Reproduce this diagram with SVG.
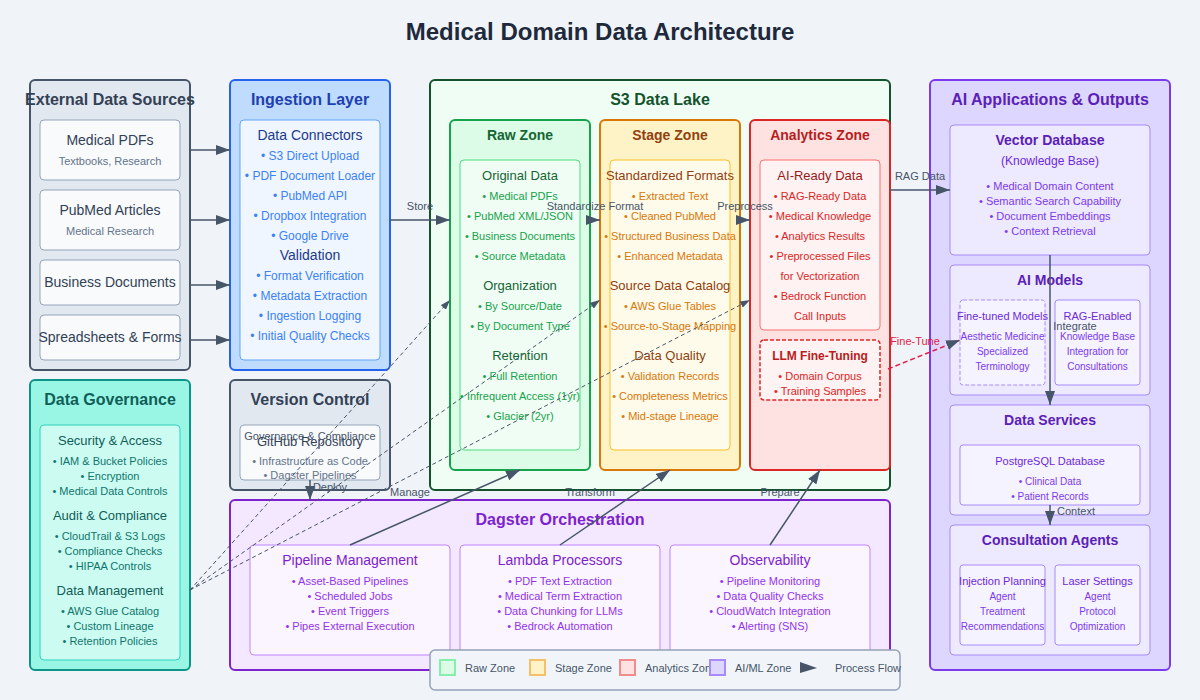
<svg xmlns="http://www.w3.org/2000/svg" width="1200" height="700" viewBox="0 0 1200 700">
<defs>
<marker id="arr" markerWidth="10" markerHeight="7" refX="10" refY="3.5" orient="auto" markerUnits="userSpaceOnUse">
<polygon points="0 0, 10 3.5, 0 7" fill="#475569"/>
</marker>
<marker id="arrb" markerWidth="14" markerHeight="10" refX="14" refY="5" orient="auto" markerUnits="userSpaceOnUse">
<polygon points="0 0, 14 5, 0 10" fill="#475569"/>
</marker>
</defs>
<style>
text{font-family:"Liberation Sans",Arial,Helvetica,sans-serif;text-anchor:middle}
.t{font-size:24px;font-weight:bold;fill:#1e293b}
.h16{font-size:16px;font-weight:bold}
.h14b{font-size:14px;font-weight:bold}
.s14{font-size:14px}
.s13{font-size:13px}
.s12{font-size:12px}
.s11{font-size:11px}
.s10{font-size:10px}
.lbl{font-size:11px;fill:#475569}
.conn{stroke:#475569;stroke-width:1.5;fill:none}
.dash{stroke:#475569;stroke-width:1;stroke-dasharray:4,3;fill:none}
</style>
<rect width="1200" height="700" fill="#f0f4f8"/>
<text class="t" x="600" y="40">Medical Domain Data Architecture</text>

<g id="external-sources">
<rect x="30" y="80" width="160" height="290" rx="5" fill="#e2e8f0" stroke="#475569" stroke-width="2"/>
<text class="h16" x="110" y="105" fill="#334155">External Data Sources</text>
<rect x="40" y="120" width="140" height="60" rx="4" fill="#f8fafc" stroke="#94a3b8"/>
<text class="s14" x="110" y="145" fill="#334155">Medical PDFs</text>
<text class="s11" x="110" y="165" fill="#64748b">Textbooks, Research</text>
<rect x="40" y="190" width="140" height="60" rx="4" fill="#f8fafc" stroke="#94a3b8"/>
<text class="s14" x="110" y="215" fill="#334155">PubMed Articles</text>
<text class="s11" x="110" y="235" fill="#64748b">Medical Research</text>
<rect x="40" y="260" width="140" height="45" rx="4" fill="#f8fafc" stroke="#94a3b8"/>
<text class="s14" x="110" y="287" fill="#334155">Business Documents</text>
<rect x="40" y="315" width="140" height="45" rx="4" fill="#f8fafc" stroke="#94a3b8"/>
<text class="s14" x="110" y="342" fill="#334155">Spreadsheets &amp; Forms</text>
</g>

<g id="ingestion-layer">
<rect x="230" y="80" width="160" height="290" rx="5" fill="#bfdbfe" stroke="#2563eb" stroke-width="2"/>
<text class="h16" x="310" y="105" fill="#1e40af">Ingestion Layer</text>
<rect x="240" y="120" width="140" height="240" rx="4" fill="#eff6ff" stroke="#60a5fa"/>
<text class="s14" x="310" y="140" fill="#1e3a8a">Data Connectors</text>
<g class="s12" fill="#3b82f6">
<text x="310" y="160">• S3 Direct Upload</text>
<text x="310" y="180">• PDF Document Loader</text>
<text x="310" y="200">• PubMed API</text>
<text x="310" y="220">• Dropbox Integration</text>
<text x="310" y="240">• Google Drive</text>
</g>
<text class="s14" x="310" y="260" fill="#1e3a8a">Validation</text>
<g class="s12" fill="#3b82f6">
<text x="310" y="280">• Format Verification</text>
<text x="310" y="300">• Metadata Extraction</text>
<text x="310" y="320">• Ingestion Logging</text>
<text x="310" y="340">• Initial Quality Checks</text>
</g>
</g>

<g id="s3-data-lake">
<rect x="430" y="80" width="460" height="410" rx="5" fill="#f0fdf4" stroke="#14532d" stroke-width="2"/>
<text class="h16" x="660" y="105" fill="#14532d">S3 Data Lake</text>
</g>

<g id="raw-zone">
<rect x="450" y="120" width="140" height="350" rx="5" fill="#dcfce7" stroke="#16a34a" stroke-width="2"/>
<text class="h14b" x="520" y="140" fill="#166534">Raw Zone</text>
<rect x="460" y="160" width="120" height="290" rx="4" fill="#f0fdf4" stroke="#4ade80"/>
<text class="s13" x="520" y="180" fill="#166534">Original Data</text>
<g class="s11" fill="#16a34a">
<text x="520" y="200">• Medical PDFs</text>
<text x="520" y="220">• PubMed XML/JSON</text>
<text x="520" y="240">• Business Documents</text>
<text x="520" y="260">• Source Metadata</text>
</g>
<text class="s13" x="520" y="290" fill="#166534">Organization</text>
<g class="s11" fill="#16a34a">
<text x="520" y="310">• By Source/Date</text>
<text x="520" y="330">• By Document Type</text>
</g>
<text class="s13" x="520" y="360" fill="#166534">Retention</text>
<g class="s11" fill="#16a34a">
<text x="520" y="380">• Full Retention</text>
<text x="520" y="400">• Infrequent Access (1yr)</text>
<text x="520" y="420">• Glacier (2yr)</text>
</g>
</g>

<g id="stage-zone">
<rect x="600" y="120" width="140" height="350" rx="5" fill="#fef3c7" stroke="#d97706" stroke-width="2"/>
<text class="h14b" x="670" y="140" fill="#92400e">Stage Zone</text>
<rect x="610" y="160" width="120" height="290" rx="4" fill="#fffbeb" stroke="#fbbf24"/>
<text class="s13" x="670" y="180" fill="#92400e">Standardized Formats</text>
<g class="s11" fill="#d97706">
<text x="670" y="200">• Extracted Text</text>
<text x="670" y="220">• Cleaned PubMed</text>
<text x="670" y="240">• Structured Business Data</text>
<text x="670" y="260">• Enhanced Metadata</text>
</g>
<text class="s13" x="670" y="290" fill="#92400e">Source Data Catalog</text>
<g class="s11" fill="#d97706">
<text x="670" y="310">• AWS Glue Tables</text>
<text x="670" y="330">• Source-to-Stage Mapping</text>
</g>
<text class="s13" x="670" y="360" fill="#92400e">Data Quality</text>
<g class="s11" fill="#d97706">
<text x="670" y="380">• Validation Records</text>
<text x="670" y="400">• Completeness Metrics</text>
<text x="670" y="420">• Mid-stage Lineage</text>
</g>
</g>

<g id="analytics-zone">
<rect x="750" y="120" width="140" height="350" rx="5" fill="#fee2e2" stroke="#dc2626" stroke-width="2"/>
<text class="h14b" x="820" y="140" fill="#b91c1c">Analytics Zone</text>
<rect x="760" y="160" width="120" height="170" rx="4" fill="#fef2f2" stroke="#f87171"/>
<text class="s13" x="820" y="180" fill="#991b1b">AI-Ready Data</text>
<g class="s11" fill="#dc2626">
<text x="820" y="200">• RAG-Ready Data</text>
<text x="820" y="220">• Medical Knowledge</text>
<text x="820" y="240">• Analytics Results</text>
<text x="820" y="260">• Preprocessed Files</text>
<text x="820" y="280">for Vectorization</text>
<text x="820" y="300">• Bedrock Function</text>
<text x="820" y="320">Call Inputs</text>
</g>
</g>

<g id="llm-fine-tuning">
<rect x="760" y="340" width="120" height="60" rx="4" fill="#fef2f2" stroke="#dc2626" stroke-width="1.5" stroke-dasharray="4,2"/>
<text x="820" y="360" font-size="12" font-weight="bold" fill="#b91c1c">LLM Fine-Tuning</text>
<text class="s11" x="820" y="380" fill="#dc2626">• Domain Corpus</text>
<text class="s11" x="820" y="395" fill="#dc2626">• Training Samples</text>
</g>

<g id="ai-applications">
<rect x="930" y="80" width="240" height="590" rx="5" fill="#ddd6fe" stroke="#7c3aed" stroke-width="2"/>
<text class="h16" x="1050" y="105" fill="#5b21b6">AI Applications &amp; Outputs</text>
</g>

<g id="vector-database">
<rect x="950" y="125" width="200" height="130" rx="4" fill="#ede9fe" stroke="#a78bfa"/>
<text class="h14b" x="1050" y="145" fill="#5b21b6">Vector Database</text>
<text class="s12" x="1050" y="165" fill="#6d28d9">(Knowledge Base)</text>
<g class="s11" fill="#7c3aed">
<text x="1050" y="190">• Medical Domain Content</text>
<text x="1050" y="205">• Semantic Search Capability</text>
<text x="1050" y="220">• Document Embeddings</text>
<text x="1050" y="235">• Context Retrieval</text>
</g>
</g>

<g id="ai-models">
<rect x="950" y="265" width="200" height="130" rx="4" fill="#ede9fe" stroke="#a78bfa"/>
<text class="h14b" x="1050" y="285" fill="#5b21b6">AI Models</text>
<rect x="960" y="300" width="85" height="85" rx="3" fill="#f5f3ff" stroke="#a78bfa" stroke-dasharray="4,2"/>
<text class="s11" x="1002.5" y="320" fill="#6d28d9">Fine-tuned Models</text>
<g class="s10" fill="#7c3aed">
<text x="1002.5" y="340">Aesthetic Medicine</text>
<text x="1002.5" y="355">Specialized</text>
<text x="1002.5" y="370">Terminology</text>
</g>
<rect x="1055" y="300" width="85" height="85" rx="3" fill="#f5f3ff" stroke="#a78bfa"/>
<text class="s11" x="1097.5" y="320" fill="#6d28d9">RAG-Enabled</text>
<g class="s10" fill="#7c3aed">
<text x="1097.5" y="340">Knowledge Base</text>
<text x="1097.5" y="355">Integration for</text>
<text x="1097.5" y="370">Consultations</text>
</g>
</g>

<g id="data-services">
<rect x="950" y="405" width="200" height="110" rx="4" fill="#ede9fe" stroke="#a78bfa"/>
<text class="h14b" x="1050" y="425" fill="#5b21b6">Data Services</text>
<rect x="960" y="445" width="180" height="60" rx="3" fill="#f5f3ff" stroke="#a78bfa"/>
<text class="s11" x="1050" y="465" fill="#6d28d9">PostgreSQL Database</text>
<text class="s10" x="1050" y="485" fill="#7c3aed">• Clinical Data</text>
<text class="s10" x="1050" y="500" fill="#7c3aed">• Patient Records</text>
</g>

<g id="consultation-agents">
<rect x="950" y="525" width="200" height="130" rx="4" fill="#ede9fe" stroke="#a78bfa"/>
<text class="h14b" x="1050" y="545" fill="#5b21b6">Consultation Agents</text>
<rect x="960" y="565" width="85" height="80" rx="3" fill="#f5f3ff" stroke="#a78bfa"/>
<text class="s11" x="1002.5" y="585" fill="#6d28d9">Injection Planning</text>
<g class="s10" fill="#7c3aed">
<text x="1002.5" y="600">Agent</text>
<text x="1002.5" y="615">Treatment</text>
<text x="1002.5" y="630">Recommendations</text>
</g>
<rect x="1055" y="565" width="85" height="80" rx="3" fill="#f5f3ff" stroke="#a78bfa"/>
<text class="s11" x="1097.5" y="585" fill="#6d28d9">Laser Settings</text>
<g class="s10" fill="#7c3aed">
<text x="1097.5" y="600">Agent</text>
<text x="1097.5" y="615">Protocol</text>
<text x="1097.5" y="630">Optimization</text>
</g>
</g>

<g id="data-governance">
<rect x="30" y="380" width="160" height="290" rx="5" fill="#99f6e4" stroke="#0d9488" stroke-width="2"/>
<text class="h16" x="110" y="405" fill="#115e59">Data Governance</text>
<rect x="40" y="425" width="140" height="235" rx="4" fill="#ccfbf1" stroke="#2dd4bf"/>
<text class="s13" x="110" y="445" fill="#115e59">Security &amp; Access</text>
<g class="s11" fill="#0f766e">
<text x="110" y="465">• IAM &amp; Bucket Policies</text>
<text x="110" y="480">• Encryption</text>
<text x="110" y="495">• Medical Data Controls</text>
</g>
<text class="s13" x="110" y="520" fill="#115e59">Audit &amp; Compliance</text>
<g class="s11" fill="#0f766e">
<text x="110" y="540">• CloudTrail &amp; S3 Logs</text>
<text x="110" y="555">• Compliance Checks</text>
<text x="110" y="570">• HIPAA Controls</text>
</g>
<text class="s13" x="110" y="595" fill="#115e59">Data Management</text>
<g class="s11" fill="#0f766e">
<text x="110" y="615">• AWS Glue Catalog</text>
<text x="110" y="630">• Custom Lineage</text>
<text x="110" y="645">• Retention Policies</text>
</g>
</g>

<g id="version-control">
<rect x="230" y="380" width="160" height="110" rx="5" fill="#e2e8f0" stroke="#475569" stroke-width="2"/>
<text class="h16" x="310" y="405" fill="#334155">Version Control</text>
<rect x="240" y="425" width="140" height="55" rx="4" fill="#f8fafc" stroke="#94a3b8"/>
<text class="s13" x="310" y="446" fill="#334155">GitHub Repository</text>
<text class="s11" x="310" y="465" fill="#64748b">• Infrastructure as Code</text>
<text class="s11" x="310" y="479" fill="#64748b">• Dagster Pipelines</text>
</g>

<g id="dagster-orchestration">
<rect x="230" y="500" width="660" height="170" rx="5" fill="#f3e8ff" stroke="#7e22ce" stroke-width="2"/>
<text class="h16" x="560" y="525" fill="#7e22ce">Dagster Orchestration</text>
<rect x="250" y="545" width="200" height="110" rx="4" fill="#faf5ff" stroke="#c084fc"/>
<text class="s14" x="350" y="565" fill="#7e22ce">Pipeline Management</text>
<g class="s11" fill="#9333ea">
<text x="350" y="585">• Asset-Based Pipelines</text>
<text x="350" y="600">• Scheduled Jobs</text>
<text x="350" y="615">• Event Triggers</text>
<text x="350" y="630">• Pipes External Execution</text>
</g>
<rect x="460" y="545" width="200" height="110" rx="4" fill="#faf5ff" stroke="#c084fc"/>
<text class="s14" x="560" y="565" fill="#7e22ce">Lambda Processors</text>
<g class="s11" fill="#9333ea">
<text x="560" y="585">• PDF Text Extraction</text>
<text x="560" y="600">• Medical Term Extraction</text>
<text x="560" y="615">• Data Chunking for LLMs</text>
<text x="560" y="630">• Bedrock Automation</text>
</g>
<rect x="670" y="545" width="200" height="110" rx="4" fill="#faf5ff" stroke="#c084fc"/>
<text class="s14" x="770" y="565" fill="#7e22ce">Observability</text>
<g class="s11" fill="#9333ea">
<text x="770" y="585">• Pipeline Monitoring</text>
<text x="770" y="600">• Data Quality Checks</text>
<text x="770" y="615">• CloudWatch Integration</text>
<text x="770" y="630">• Alerting (SNS)</text>
</g>
</g>

<g id="connectors">
<line class="conn" x1="190" y1="150" x2="230" y2="150" marker-end="url(#arrb)"/>
<line class="conn" x1="190" y1="220" x2="230" y2="220" marker-end="url(#arrb)"/>
<line class="conn" x1="190" y1="285" x2="230" y2="285" marker-end="url(#arrb)"/>
<line class="conn" x1="190" y1="340" x2="230" y2="340" marker-end="url(#arrb)"/>
<line class="conn" x1="390" y1="220" x2="450" y2="220" marker-end="url(#arrb)"/>
<text class="lbl" x="420" y="210">Store</text>
<line class="conn" x1="590" y1="220" x2="600" y2="220" marker-end="url(#arrb)"/>
<text class="lbl" x="595" y="210">Standardize Format</text>
<line class="conn" x1="740" y1="220" x2="750" y2="220" marker-end="url(#arrb)"/>
<text class="lbl" x="745" y="210">Preprocess</text>
<line class="conn" x1="890" y1="190" x2="950" y2="190" marker-end="url(#arrb)"/>
<text class="lbl" x="920" y="180">RAG Data</text>
<line class="conn" stroke-width="2" x1="1050" y1="255" x2="1050" y2="405" marker-end="url(#arrb)"/>
<text class="lbl" x="1075" y="330" font-size="12">Integrate</text>
<line class="conn" stroke-width="2" x1="1050" y1="505" x2="1050" y2="525" marker-end="url(#arrb)"/>
<text class="lbl" x="1076" y="515" font-size="12">Context</text>
<line x1="888" y1="369" x2="960" y2="340" stroke="#e11d48" stroke-width="1.5" stroke-dasharray="5,3" marker-end="url(#arrb)"/>
<text x="915" y="345" font-size="11" fill="#e11d48">Fine-Tune</text>
<line class="dash" x1="190" y1="590" x2="450" y2="300" marker-end="url(#arr)"/>
<line class="dash" x1="190" y1="590" x2="600" y2="300" marker-end="url(#arr)"/>
<line class="dash" x1="190" y1="590" x2="750" y2="300" marker-end="url(#arr)"/>
<text class="lbl" x="310" y="440">Governance &amp; Compliance</text>
<line class="conn" stroke-width="2" x1="310" y1="480" x2="310" y2="500" marker-end="url(#arrb)"/>
<text class="lbl" x="330" y="491" font-size="12">Deploy</text>
<line class="conn" x1="350" y1="545" x2="520" y2="470" marker-end="url(#arrb)"/>
<text class="lbl" x="410" y="496" font-size="12">Manage</text>
<line class="conn" x1="560" y1="545" x2="670" y2="470" marker-end="url(#arrb)"/>
<text class="lbl" x="590" y="496">Transform</text>
<line class="conn" x1="770" y1="545" x2="820" y2="470" marker-end="url(#arrb)"/>
<text class="lbl" x="780" y="496">Prepare</text>
</g>

<g id="legend">
<rect x="430" y="650" width="470" height="40" rx="5" fill="#f1f5f9" stroke="#94a3b8" stroke-width="1.5"/>
<g style="text-anchor:start">
<rect x="440" y="660" width="15" height="15" fill="#dcfce7" stroke="#86efac" stroke-width="2"/>
<text class="lbl" x="465" y="672" style="text-anchor:start">Raw Zone</text>
<rect x="530" y="660" width="15" height="15" fill="#fef3c7" stroke="#f4c06a" stroke-width="2"/>
<text class="lbl" x="555" y="672" style="text-anchor:start">Stage Zone</text>
<rect x="620" y="660" width="15" height="15" fill="#fee2e2" stroke="#f28b8b" stroke-width="2"/>
<text class="lbl" x="645" y="672" style="text-anchor:start">Analytics Zone</text>
<rect x="710" y="660" width="15" height="15" fill="#ddd6fe" stroke="#a78bfa" stroke-width="2"/>
<text class="lbl" x="735" y="672" style="text-anchor:start">AI/ML Zone</text>
<polygon points="800,662 817,668 800,673" fill="#475569"/>
<text class="lbl" x="835" y="672" style="text-anchor:start">Process Flow</text>
</g>
</g>
</svg>
